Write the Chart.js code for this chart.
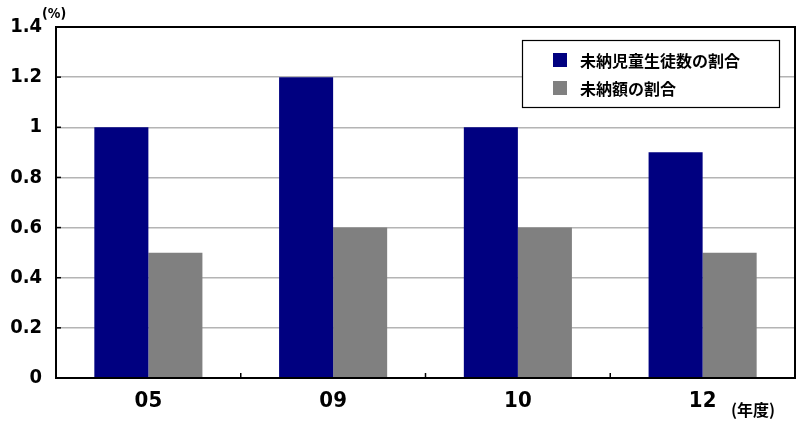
<!DOCTYPE html>
<html><head><meta charset="utf-8">
<script src="https://cdn.jsdelivr.net/npm/chart.js@4"></script>
<style>html,body{margin:0;padding:0;background:#fff}#wrap{width:800px;height:427px}</style>
</head><body><div id="wrap"><canvas id="c" width="800" height="427"></canvas></div>
<script>
const categories = ['05', '09', '10', '12'];
const studentRatio = [1.0, 1.2, 1.0, 0.9];
const amountRatio = [0.5, 0.6, 0.6, 0.5];
const seriesNames = ['未納児童生徒数の割合', '未納額の割合'];
const yTicks = [0, 0.2, 0.4, 0.6, 0.8, 1, 1.2, 1.4];
const numFont = "'DejaVu Sans Condensed', 'Liberation Sans Narrow', 'Liberation Sans', sans-serif";
const jpFont = "'Noto Sans CJK JP', sans-serif";

const decor = {
  id: 'decor',
  afterDraw(chart) {
    const ctx = chart.ctx, a = chart.chartArea;
    const xs = chart.scales.x, ys = chart.scales.y;
    ctx.save();
    ctx.strokeStyle = '#000'; ctx.lineWidth = 2;
    ctx.strokeRect(a.left, a.top, a.right - a.left, a.bottom - a.top);
    ctx.lineWidth = 1.5;
    yTicks.forEach(v => {
      const y = ys.getPixelForValue(v);
      ctx.beginPath(); ctx.moveTo(a.left, y); ctx.lineTo(a.left + 5, y); ctx.stroke();
    });
    for (let i = 1; i < categories.length; i++) {
      const x = (xs.getPixelForValue(i - 1) + xs.getPixelForValue(i)) / 2;
      ctx.beginPath(); ctx.moveTo(x, a.bottom); ctx.lineTo(x, a.bottom - 5); ctx.stroke();
    }
    ctx.fillStyle = '#000';
    ctx.font = "bold 14px " + numFont;
    ctx.textAlign = 'left'; ctx.textBaseline = 'middle';
    ctx.fillText('(%)', 42, 14);
    ctx.font = "bold 16px " + jpFont;
    ctx.fillText('(年度)', 731, 410);
    const lx = 522, ly = 40, lw = 257, lh = 67;
    ctx.fillStyle = '#fff'; ctx.fillRect(lx, ly, lw, lh);
    ctx.strokeStyle = '#000'; ctx.lineWidth = 1.2;
    ctx.strokeRect(lx + 0.5, ly + 0.5, lw, lh);
    chart.data.datasets.forEach((ds, i) => {
      const cy = 60 + i * 28;
      ctx.fillStyle = ds.backgroundColor;
      ctx.fillRect(553, cy - 7, 14, 14);
      ctx.fillStyle = '#000';
      ctx.font = "bold 16px " + jpFont;
      ctx.textBaseline = 'middle';
      ctx.fillText(ds.label, 580, cy + 1);
    });
    ctx.restore();
  }
};

new Chart(document.getElementById('c'), {
  type: 'bar',
  data: {
    labels: categories,
    datasets: [
      { label: seriesNames[0], data: studentRatio, backgroundColor: '#000080' },
      { label: seriesNames[1], data: amountRatio, backgroundColor: '#808080' }
    ]
  },
  options: {
    responsive: false, animation: false,
    layout: { padding: { top: 27, right: 5, left: 0, bottom: 0 } },
    datasets: { bar: { categoryPercentage: 0.585, barPercentage: 1.0 } },
    plugins: { legend: { display: false }, tooltip: { enabled: false } },
    scales: {
      x: {
        grid: { display: false, drawTicks: false },
        border: { display: false },
        ticks: { color: '#000', font: { family: numFont, size: 22, weight: 'bold' }, padding: 10 },
        afterFit(s) { s.height = 49; }
      },
      y: {
        min: 0, max: 1.4,
        afterBuildTicks(s) { s.ticks = yTicks.map(v => ({ value: v })); },
        grid: { color: '#b4b4b4', lineWidth: 1.5, drawTicks: false },
        border: { display: false },
        ticks: { color: '#000', font: { family: numFont, size: 20, weight: 'bold' }, padding: 14,
                 callback: v => String(v) },
        afterFit(s) { s.width = 56; }
      }
    }
  },
  plugins: [decor]
});
</script></body></html>
